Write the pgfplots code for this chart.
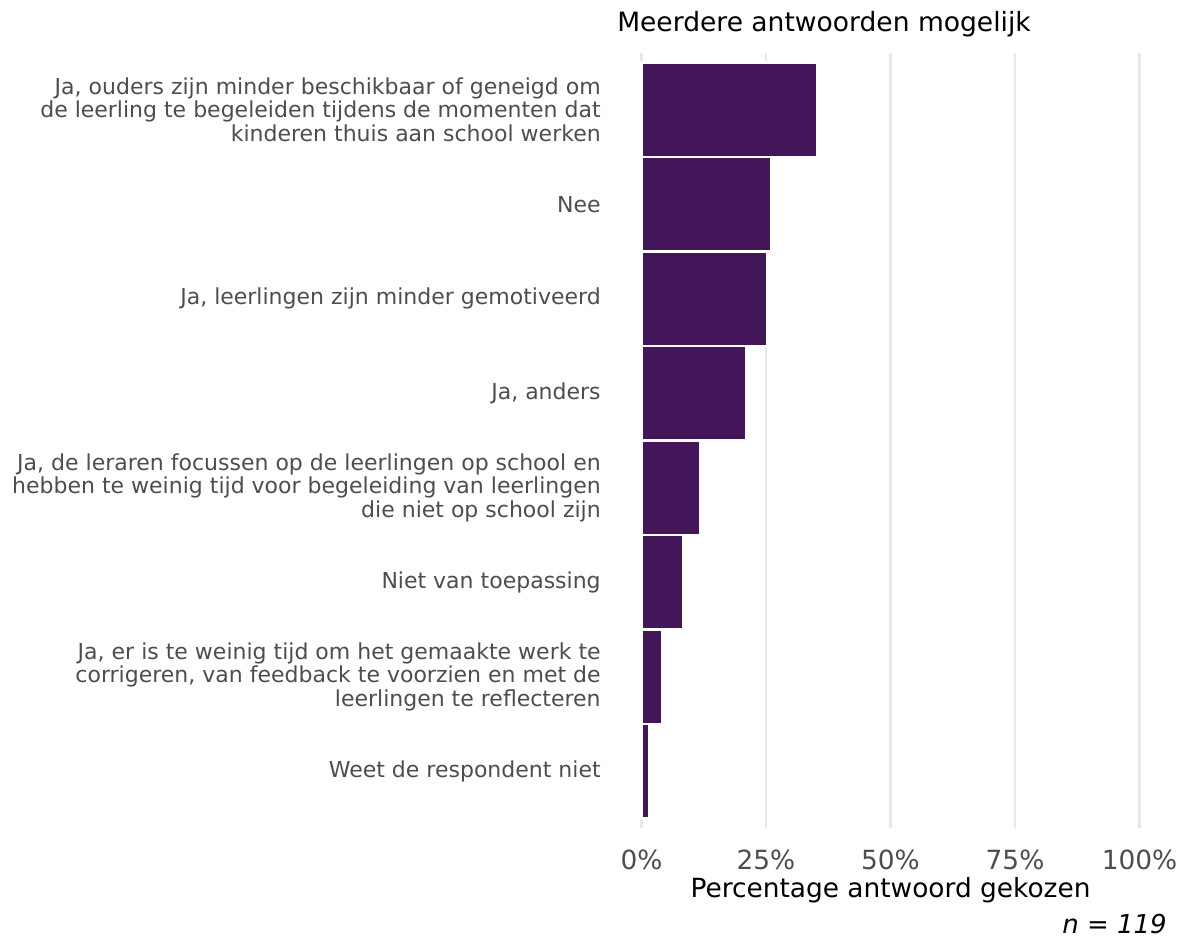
\documentclass[border=0pt]{standalone}
\usepackage{fontspec}
\setmainfont{DejaVu Sans}
\usepackage{pgfplots}
\pgfplotsset{compat=1.18}
\definecolor{barpurple}{RGB}{67,21,89}
\definecolor{gridgray}{RGB}{232,232,232}
\definecolor{labelgray}{RGB}{77,77,77}
\begin{document}
\begin{tikzpicture}
\path[use as bounding box] (0,0) rectangle (893.25pt,-704.25pt);
\begin{axis}[
  at={(481.125pt,-621pt)}, anchor=south west,
  scale only axis, width=373.5pt, height=581.25pt,
  xmin=0, xmax=100, ymin=0.4, ymax=8.6, y dir=reverse,
  xtick={0,25,50,75,100},
  xticklabel={\pgfmathprintnumber{\tick}\%},
  /pgf/number format/assume math mode=true,
  ytick={1,...,8},
  yticklabels={
    {Ja, ouders zijn minder beschikbaar of geneigd om\\de leerling te begeleiden tijdens de momenten dat\\kinderen thuis aan school werken},
    {Nee},
    {Ja, leerlingen zijn minder gemotiveerd},
    {Ja, anders},
    {Ja, de leraren focussen op de leerlingen op school en\\hebben te weinig tijd voor begeleiding van leerlingen\\die niet op school zijn},
    {Niet van toepassing},
    {Ja, er is te weinig tijd om het gemaakte werk te\\corrigeren, van feedback te voorzien en met de\\leerlingen te reflecteren},
    {Weet de respondent niet}},
  yticklabel style={font=\fontsize{16.5}{17.6}\selectfont, text=labelgray, align=right, anchor=east, inner sep=0pt, xshift=-30.4pt},
  xticklabel style={font=\fontsize{19.8}{22}\selectfont, text=labelgray, anchor=north, inner sep=0pt, yshift=-16.5pt},
  xlabel={Percentage antwoord gekozen},
  xlabel style={font=\fontsize{19.8}{22}\selectfont, anchor=north, inner sep=0pt, at={(axis description cs:0.5,0)}, yshift=-36.75pt},
  axis line style={draw=none},
  major tick length=0pt,
  xmajorgrids, grid style={color=gridgray, line width=2pt},
  xbar, bar width=1, bar shift=0pt,
  clip=false,
]
\addplot[fill=barpurple, draw=white, line width=1.8pt] coordinates {
  (35.3,1) (26.0,2) (25.2,3) (21.0,4) (11.7,5) (8.3,6) (4.1,7) (1.5,8)
};
\end{axis}
\node[anchor=base west, inner sep=0pt, font=\fontsize{19.9}{22}\selectfont] at (462.75pt,-23.25pt) {Meerdere antwoorden mogelijk};
\node[anchor=base east, inner sep=0pt, font=\fontsize{19.5}{22}\selectfont\itshape] at (875.25pt,-699.75pt) {n = 119};
\end{tikzpicture}
\end{document}
